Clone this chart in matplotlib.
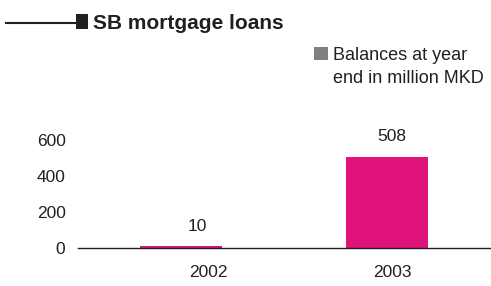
import matplotlib
matplotlib.use("Agg")
import matplotlib.pyplot as plt
from matplotlib.patches import Rectangle
from matplotlib.lines import Line2D

years = ["2002", "2003"]
values = [10, 508]
yticks = [0, 200, 400, 600]

plt.rcParams['font.family'] = ['Liberation Sans', 'DejaVu Sans']
TXT = "#231f20"
BAR = "#e0137b"

fig = plt.figure(figsize=(4.91, 2.86), dpi=100)
ax = fig.add_axes([78/491, 1-248/286, (490-78)/491, 108/286])

x = list(range(len(years)))
ax.bar(x, values, width=0.4, color=BAR, zorder=2)
ax.set_xlim(-0.5, 1.5)
ax.set_ylim(0, 600)
ax.set_yticks(yticks)
ax.set_yticklabels([str(t) for t in yticks])
label_off = [0.135, 0.025]
ax.set_xticks([xi + o for xi, o in zip(x, label_off)])
ax.set_xticklabels(years)
ax.tick_params(axis='both', length=0, labelsize=12.5, colors=TXT)
ax.tick_params(axis='x', pad=12)
ax.tick_params(axis='y', pad=9)
for s in ['top', 'right', 'left']:
    ax.spines[s].set_visible(False)
ax.spines['bottom'].set_color(TXT)
ax.spines['bottom'].set_linewidth(1.0)
ax.spines['bottom'].set_zorder(3)

val_off = [0.08, 0.022]
for xi, v, o in zip(x, values, val_off):
    ax.annotate(str(v), (xi + o, v), xytext=(0, 9), textcoords='offset points',
                ha='center', va='bottom', fontsize=12.5, color=TXT, annotation_clip=False)

# title decoration
fig.add_artist(Line2D([6/491, 77/491], [1-22.5/286, 1-22.5/286], color=TXT, lw=1.5))
fig.add_artist(Rectangle((76/491, 1-29/286), 12/491, 15/286, color=TXT, lw=0))
fig.text(93/491, 1-29/286, "SB mortgage loans", fontsize=15, fontweight='bold',
         color=TXT, ha='left', va='baseline')

# legend
fig.add_artist(Rectangle((314/491, 1-60/286), 14/491, 13/286, color="#808080", lw=0))
legend_lines = ["Balances at year", "end in million MKD"]
for i, line in enumerate(legend_lines):
    fig.text(333/491, 1-(60 + 23*i)/286, line, fontsize=13,
             color=TXT, ha='left', va='baseline')

fig.savefig("out.png", dpi=100)
